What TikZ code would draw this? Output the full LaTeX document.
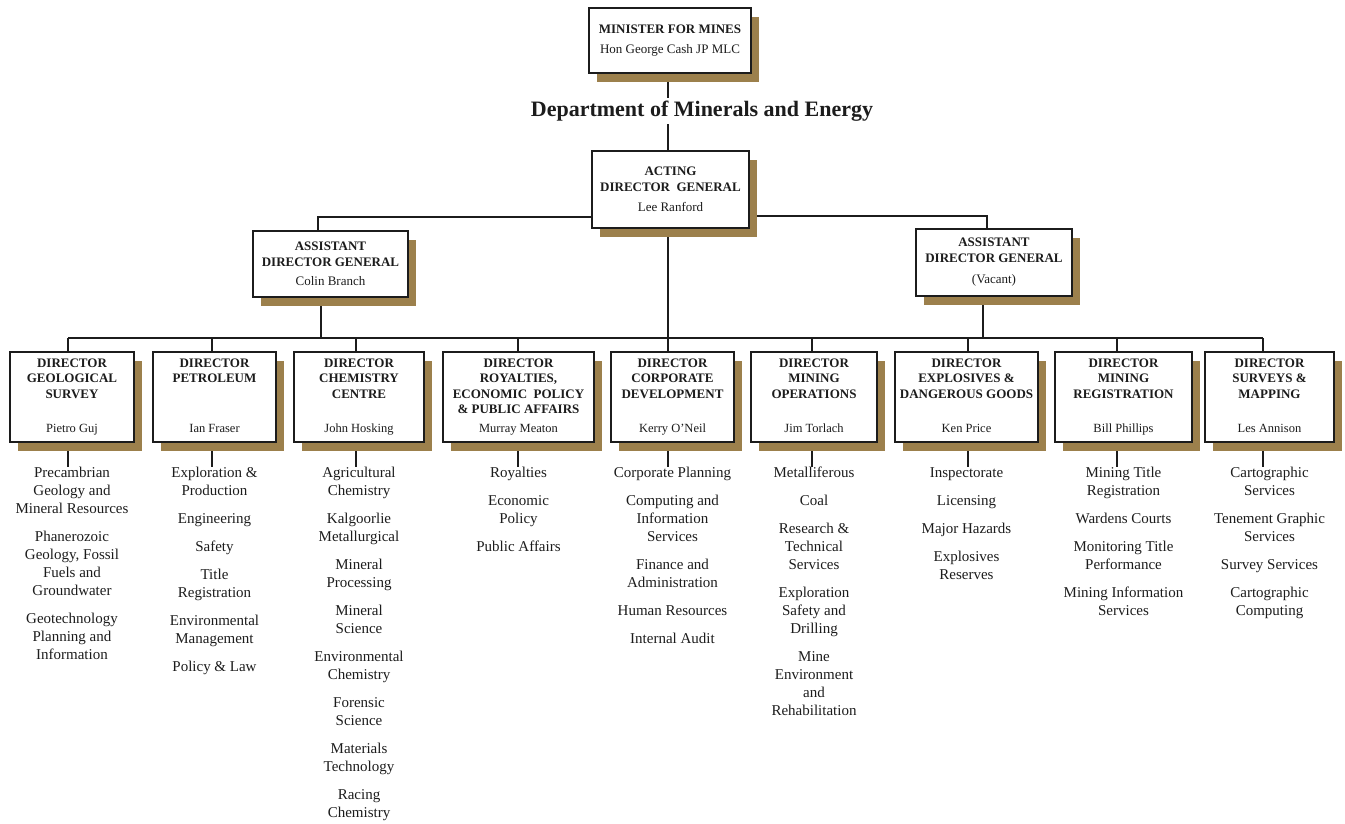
\documentclass[tikz,border=0pt]{standalone}
\usepackage{fontspec}
\setmainfont{Liberation Serif}
\usetikzlibrary{shadows,backgrounds}
\definecolor{khaki}{RGB}{156,128,76}
\definecolor{ink}{RGB}{28,28,28}
\newcommand{\headfont}{\bfseries\fontsize{13}{15.5}\selectfont}
\newcommand{\whofont}{\mdseries\fontsize{13}{15.5}\selectfont}
\tikzset{
  post/.style={draw=ink,line width=2pt,fill=white,inner sep=0pt,text=ink,
    drop shadow={shadow xshift=8pt,shadow yshift=-9pt,fill=khaki,opacity=1}},
  toppost/.style={post,align=center,font=\headfont},
  head/.style={align=center,inner sep=0pt,text=ink,font=\headfont},
  who/.style={inner sep=0pt,text=ink,font=\fontsize{12.5}{14}\selectfont},
  duties/.style={align=center,inner sep=0pt,text=ink,font=\fontsize{15}{18}\selectfont},
  link/.style={draw=ink,line width=1.8pt},
}

\begin{document}
\begin{tikzpicture}[x=1pt,y=-1pt]
  \useasboundingbox (0,0) rectangle (1345,824);

  % top of the tree
  \node[toppost,minimum width=162pt,minimum height=65pt] (minister) at (670,40.5)
    {MINISTER FOR MINES\\[5pt]{\whofont Hon George Cash JP MLC}};
  \node[font=\bfseries\fontsize{22}{26}\selectfont,text=ink,fill=white,inner sep=3pt] (dept) at (702,111)
    {Department of Minerals and Energy};
  \node[toppost,minimum width=157pt,minimum height=77pt] (acting) at (670.5,189.5)
    {ACTING\\DIRECTOR\ \ GENERAL\\[5pt]{\whofont Lee Ranford}};
  \node[toppost,minimum width=155pt,minimum height=66pt] (adgL) at (330.5,264)
    {ASSISTANT\\DIRECTOR GENERAL\\[4pt]{\whofont Colin Branch}};
  \node[toppost,minimum width=156pt,minimum height=67pt] (adgR) at (994,262.5)
    {ASSISTANT\\DIRECTOR GENERAL\\[6pt]{\whofont (Vacant)}};

  \coordinate (bus) at (0,338);

  % directors: centre / width / tick offset / title / name
  \foreach \cx/\w/\dx/\head/\who [count=\i] in {
      72/124/-4/{DIRECTOR\\GEOLOGICAL\\SURVEY}/{Pietro Guj},
      214.5/123/-2.5/{DIRECTOR\\PETROLEUM}/{Ian Fraser},
      359/130/-3/{DIRECTOR\\CHEMISTRY\\CENTRE}/{John Hosking},
      518.5/151/-0.5/{DIRECTOR\\ROYALTIES,\\ECONOMIC\ \ POLICY\\\&\ PUBLIC AFFAIRS}/{Murray Meaton},
      672.5/123/-4.5/{DIRECTOR\\CORPORATE\\DEVELOPMENT}/{Kerry O'Neil},
      814/126/-2/{DIRECTOR\\MINING\\OPERATIONS}/{Jim Torlach},
      966.5/143/1.5/{DIRECTOR\\EXPLOSIVES \&\\DANGEROUS GOODS}/{Ken Price},
      1123.5/137/-6.5/{DIRECTOR\\MINING\\REGISTRATION}/{Bill Phillips},
      1269.5/129/-6.5/{DIRECTOR\\SURVEYS \&\\MAPPING}/{Les Annison}}{
    \node[post,minimum width=\w pt,minimum height=90pt] (d\i) at (\cx,397) {};
    \node[head,anchor=north] (h\i) at ([yshift=-7.5pt]d\i.north) {\head};
    \node[who,anchor=base] (n\i) at ([yshift=11pt]d\i.south) {\who};
    \coordinate (t\i) at ([xshift=\dx pt]d\i.north);
    \coordinate (b\i) at ([xshift=\dx pt]d\i.south);
  }

  % sections under each director
  \foreach \txt [count=\i] in {
      {Precambrian\\Geology and\\Mineral Resources\\[10pt]Phanerozoic\\Geology, Fossil\\Fuels and\\Groundwater\\[10pt]Geotechnology\\Planning and\\Information},
      {Exploration \&\\Production\\[10pt]Engineering\\[10pt]Safety\\[10pt]Title\\Registration\\[10pt]Environmental\\Management\\[10pt]Policy \& Law},
      {Agricultural\\Chemistry\\[10pt]Kalgoorlie\\Metallurgical\\[10pt]Mineral\\Processing\\[10pt]Mineral\\Science\\[10pt]Environmental\\Chemistry\\[10pt]Forensic\\Science\\[10pt]Materials\\Technology\\[10pt]Racing\\Chemistry},
      {Royalties\\[10pt]Economic\\Policy\\[10pt]Public Affairs},
      {Corporate Planning\\[10pt]Computing and\\Information\\Services\\[10pt]Finance and\\Administration\\[10pt]Human Resources\\[10pt]Internal Audit},
      {Metalliferous\\[10pt]Coal\\[10pt]Research \&\\Technical\\Services\\[10pt]Exploration\\Safety and\\Drilling\\[10pt]Mine\\Environment\\and\\Rehabilitation},
      {Inspectorate\\[10pt]Licensing\\[10pt]Major Hazards\\[10pt]Explosives\\Reserves},
      {Mining Title\\Registration\\[10pt]Wardens Courts\\[10pt]Monitoring Title\\Performance\\[10pt]Mining Information\\Services},
      {Cartographic\\Services\\[10pt]Tenement Graphic\\Services\\[10pt]Survey Services\\[10pt]Cartographic\\Computing}}{
    \node[duties,anchor=north] (l\i) at ([yshift=-24pt]d\i.south) {\txt};
  }

  % lines of report, kept behind boxes and shadows
  \begin{scope}[on background layer]
    \draw[link] ([xshift=-2pt]minister.south) -- ([xshift=-2pt]minister.south |- acting.north);
    \draw[link] ([yshift=-27.5pt]acting.west) -| ([xshift=-12.5pt]adgL.north);
    \draw[link] ([yshift=-26.5pt]acting.east) -| ([xshift=-7pt]adgR.north);
    \draw[link] ([xshift=-2.5pt]acting.south) -- ([xshift=-2.5pt]acting.south |- bus);
    \draw[link] ([xshift=-9.5pt]adgL.south) -- ([xshift=-9.5pt]adgL.south |- bus);
    \draw[link] ([xshift=-11pt]adgR.south) -- ([xshift=-11pt]adgR.south |- bus);
    \draw[link] (t1 |- bus) -- (t9 |- bus);
    \foreach \i in {1,...,9}{
      \draw[link] (t\i) -- (t\i |- bus);
      \draw[link] (b\i) -- (b\i |- l\i.north);
    }
  \end{scope}
\end{tikzpicture}
\end{document}
